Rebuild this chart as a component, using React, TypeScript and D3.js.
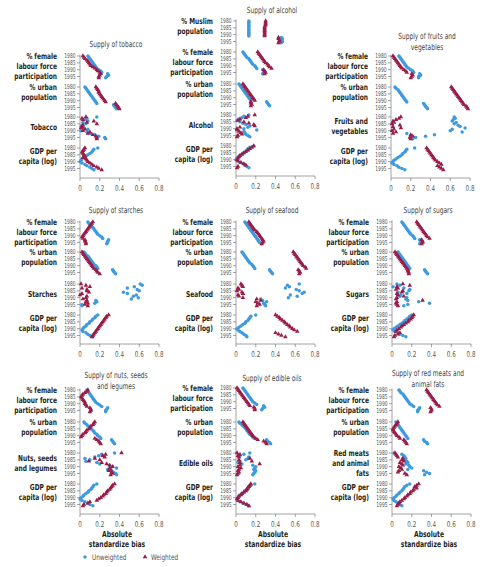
import React from "react";
import * as d3 from "d3";

// ---------- categories / ticks ----------
const YEARS = [1980, 1981, 1982, 1983, 1984, 1985, 1986, 1987, 1988, 1989, 1990, 1991, 1992, 1993, 1994, 1995, 1996];
const YEAR_TICKS = [1980, 1985, 1990, 1995];
const X_TICKS = [0, 0.2, 0.4, 0.6, 0.8];

const FEMALE = ["% female", "labour force", "participation"];
const URBAN = ["% urban", "population"];
const MUSLIM = ["% Muslim", "population"];
const GDP = ["GDP per", "capita (log)"];

// ---------- data: absolute standardized bias, 1980-1996 ----------
// Supply of tobacco
const tobaccoUnweighted = [
  [0.08, 0.09, 0.10, 0.11, 0.12, 0.13, 0.14, 0.15, 0.16, 0.17, 0.19, 0.21, 0.22, 0.28, 0.29, 0.27, 0.26],
  [0.05, 0.06, 0.07, 0.08, 0.09, 0.10, 0.11, 0.12, 0.13, 0.14, 0.15, 0.16, 0.17, 0.34, 0.35, 0.36, 0.37],
  [0.17, 0.07, 0.05, 0.08, 0.03, 0.06, 0.02, 0.01, 0.04, 0.08, 0.01, 0.07, 0.11, 0.15, 0.19, 0.25, 0.26],
  [0.18, 0.14, 0.13, 0.12, 0.10, 0.08, 0.06, 0.04, 0.02, 0.01, 0.00, 0.02, 0.05, 0.07, 0.10, 0.12, 0.14],
];
const tobaccoWeighted = [
  [0.03, 0.04, 0.05, 0.07, 0.08, 0.09, 0.10, 0.11, 0.13, 0.15, 0.17, 0.18, 0.20, 0.21, 0.20, 0.19, 0.19],
  [0.16, 0.17, 0.18, 0.19, 0.19, 0.20, 0.21, 0.22, 0.23, 0.24, 0.25, 0.26, 0.36, 0.37, 0.38, 0.39, 0.40],
  [0.06, 0.02, 0.03, 0.14, 0.07, 0.17, 0.03, 0.02, 0.01, 0.05, 0.03, 0.10, 0.08, 0.13, 0.16, 0.17, 0.17],
  [0.05, 0.04, 0.03, 0.02, 0.03, 0.04, 0.05, 0.03, 0.06, 0.07, 0.08, 0.10, 0.12, 0.14, 0.17, 0.19, 0.22],
];
// Supply of alcohol
const alcoholUnweighted = [
  [0.13, 0.13, 0.13, 0.13, 0.13, 0.13, 0.13, 0.13, 0.13, 0.13, 0.13, 0.13, 0.46, 0.47, 0.46, 0.47, 0.46],
  [0.07, 0.08, 0.09, 0.10, 0.11, 0.13, 0.14, 0.15, 0.16, 0.17, 0.19, 0.20, 0.21, 0.27, 0.29, 0.28, 0.27],
  [0.03, 0.04, 0.05, 0.06, 0.07, 0.08, 0.09, 0.10, 0.11, 0.12, 0.13, 0.14, 0.15, 0.31, 0.32, 0.33, 0.34],
  [0.13, 0.08, 0.06, 0.03, 0.01, 0.04, 0.07, 0.10, 0.14, 0.12, 0.08, 0.21, 0.08, 0.09, 0.10, 0.12, 0.14],
  [0.18, 0.14, 0.12, 0.12, 0.10, 0.08, 0.06, 0.04, 0.02, 0.01, 0.00, 0.02, 0.04, 0.07, 0.09, 0.11, 0.13],
];
const alcoholWeighted = [
  [0.30, 0.30, 0.30, 0.30, 0.29, 0.29, 0.29, 0.29, 0.29, 0.29, 0.29, 0.29, 0.43, 0.43, 0.44, 0.44, 0.43],
  [0.22, 0.23, 0.24, 0.25, 0.26, 0.27, 0.28, 0.29, 0.30, 0.32, 0.33, 0.34, 0.36, 0.28, 0.29, 0.30, 0.29],
  [0.07, 0.08, 0.09, 0.10, 0.11, 0.12, 0.13, 0.14, 0.15, 0.16, 0.17, 0.18, 0.19, 0.15, 0.15, 0.16, 0.15],
  [0.19, 0.12, 0.10, 0.04, 0.02, 0.08, 0.13, 0.18, 0.19, 0.04, 0.01, 0.01, 0.03, 0.05, 0.06, 0.02, 0.01],
  [0.18, 0.16, 0.14, 0.12, 0.10, 0.08, 0.06, 0.04, 0.03, 0.02, 0.01, 0.02, 0.05, 0.08, 0.10, 0.02, 0.01],
];
// Supply of fruits and vegetables
const fruitsUnweighted = [
  [0.08, 0.09, 0.10, 0.11, 0.12, 0.13, 0.14, 0.15, 0.16, 0.18, 0.20, 0.22, 0.23, 0.29, 0.30, 0.28, 0.28],
  [0.04, 0.05, 0.07, 0.08, 0.09, 0.10, 0.11, 0.12, 0.13, 0.14, 0.15, 0.16, 0.33, 0.34, 0.35, 0.36, 0.37],
  [0.64, 0.65, 0.63, 0.62, 0.66, 0.64, 0.68, 0.70, 0.75, 0.62, 0.60, 0.72, 0.16, 0.44, 0.35, 0.25, 0.22],
  [0.24, 0.16, 0.15, 0.14, 0.12, 0.11, 0.09, 0.07, 0.05, 0.03, 0.02, 0.01, 0.03, 0.06, 0.08, 0.11, 0.14],
];
const fruitsWeighted = [
  [0.02, 0.03, 0.04, 0.05, 0.06, 0.07, 0.08, 0.09, 0.10, 0.11, 0.13, 0.15, 0.16, 0.21, 0.22, 0.21, 0.20],
  [0.61, 0.62, 0.63, 0.64, 0.65, 0.66, 0.67, 0.68, 0.69, 0.70, 0.71, 0.72, 0.73, 0.74, 0.76, 0.77, 0.78],
  [0.10, 0.08, 0.05, 0.02, 0.03, 0.01, 0.09, 0.02, 0.10, 0.03, 0.01, 0.05, 0.02, 0.20, 0.22, 0.19, 0.20],
  [0.36, 0.37, 0.38, 0.39, 0.40, 0.41, 0.42, 0.43, 0.44, 0.45, 0.47, 0.49, 0.51, 0.47, 0.49, 0.51, 0.53],
];
// Supply of starches
const starchesUnweighted = [
  [0.08, 0.09, 0.10, 0.11, 0.13, 0.14, 0.15, 0.16, 0.17, 0.18, 0.20, 0.22, 0.23, 0.29, 0.28, 0.28, 0.27],
  [0.04, 0.05, 0.06, 0.08, 0.09, 0.10, 0.11, 0.12, 0.13, 0.14, 0.16, 0.17, 0.18, 0.33, 0.34, 0.35, 0.36],
  [0.61, 0.63, 0.55, 0.48, 0.58, 0.60, 0.44, 0.48, 0.57, 0.54, 0.59, 0.52, 0.16, 0.17, 0.15, 0.02, 0.02],
  [0.18, 0.16, 0.15, 0.13, 0.12, 0.10, 0.09, 0.07, 0.06, 0.04, 0.03, 0.02, 0.03, 0.06, 0.08, 0.10, 0.13],
];
const starchesWeighted = [
  [0.13, 0.12, 0.11, 0.10, 0.09, 0.08, 0.07, 0.06, 0.05, 0.04, 0.03, 0.02, 0.03, 0.05, 0.05, 0.06, 0.06],
  [0.02, 0.03, 0.04, 0.05, 0.06, 0.07, 0.08, 0.09, 0.10, 0.11, 0.12, 0.13, 0.14, 0.16, 0.17, 0.18, 0.20],
  [0.01, 0.06, 0.10, 0.02, 0.07, 0.07, 0.09, 0.02, 0.00, 0.07, 0.06, 0.03, 0.07, 0.06, 0.08, 0.05, 0.08],
  [0.29, 0.27, 0.26, 0.25, 0.24, 0.23, 0.22, 0.21, 0.20, 0.19, 0.18, 0.17, 0.16, 0.15, 0.14, 0.13, 0.12],
];
// Supply of seafood
const seafoodUnweighted = [
  [0.09, 0.10, 0.11, 0.12, 0.13, 0.14, 0.15, 0.16, 0.17, 0.18, 0.19, 0.20, 0.21, 0.22, 0.23, 0.24, 0.26],
  [0.06, 0.07, 0.08, 0.09, 0.10, 0.11, 0.12, 0.13, 0.14, 0.16, 0.17, 0.18, 0.19, 0.34, 0.35, 0.36, 0.37],
  [0.64, 0.52, 0.54, 0.50, 0.61, 0.64, 0.69, 0.67, 0.55, 0.62, 0.53, 0.25, 0.27, 0.31, 0.28, 0.29, 0.30],
  [0.20, 0.15, 0.14, 0.13, 0.12, 0.10, 0.09, 0.07, 0.05, 0.03, 0.01, 0.02, 0.04, 0.06, 0.08, 0.10, 0.11],
];
const seafoodWeighted = [
  [0.13, 0.14, 0.15, 0.16, 0.17, 0.18, 0.19, 0.21, 0.22, 0.23, 0.24, 0.25, 0.26, 0.27, 0.28, 0.27, 0.26],
  [0.58, 0.59, 0.60, 0.61, 0.62, 0.63, 0.64, 0.65, 0.66, 0.67, 0.68, 0.70, 0.71, 0.63, 0.64, 0.65, 0.64],
  [0.05, 0.06, 0.07, 0.02, 0.03, 0.01, 0.06, 0.07, 0.02, 0.03, 0.07, 0.21, 0.25, 0.20, 0.22, 0.24, 0.21],
  [0.40, 0.42, 0.44, 0.45, 0.47, 0.49, 0.50, 0.52, 0.54, 0.55, 0.57, 0.59, 0.62, 0.40, 0.43, 0.46, 0.50],
];
// Supply of sugars
const sugarsUnweighted = [
  [0.10, 0.11, 0.12, 0.13, 0.14, 0.15, 0.16, 0.17, 0.18, 0.19, 0.21, 0.22, 0.23, 0.28, 0.29, 0.29, 0.28],
  [0.06, 0.07, 0.08, 0.09, 0.10, 0.11, 0.12, 0.13, 0.14, 0.15, 0.16, 0.17, 0.18, 0.33, 0.34, 0.35, 0.36],
  [0.05, 0.08, 0.01, 0.12, 0.18, 0.17, 0.06, 0.15, 0.09, 0.08, 0.15, 0.14, 0.16, 0.27, 0.38, 0.16, 0.12],
  [0.20, 0.18, 0.17, 0.15, 0.13, 0.12, 0.10, 0.08, 0.06, 0.04, 0.02, 0.01, 0.03, 0.06, 0.08, 0.11, 0.14],
];
const sugarsWeighted = [
  [0.25, 0.26, 0.27, 0.28, 0.29, 0.30, 0.31, 0.32, 0.33, 0.34, 0.35, 0.36, 0.38, 0.30, 0.31, 0.31, 0.30],
  [0.03, 0.04, 0.05, 0.06, 0.07, 0.08, 0.09, 0.10, 0.11, 0.12, 0.13, 0.14, 0.15, 0.16, 0.16, 0.17, 0.17],
  [0.11, 0.18, 0.05, 0.06, 0.04, 0.11, 0.10, 0.05, 0.06, 0.12, 0.05, 0.04, 0.31, 0.05, 0.04, 0.05, 0.06],
  [0.22, 0.21, 0.20, 0.19, 0.17, 0.16, 0.14, 0.12, 0.10, 0.09, 0.07, 0.05, 0.04, 0.08, 0.06, 0.03, 0.02],
];
// Supply of nuts, seeds and legumes
const nutsUnweighted = [
  [0.07, 0.08, 0.09, 0.10, 0.11, 0.12, 0.13, 0.14, 0.15, 0.16, 0.18, 0.20, 0.22, 0.28, 0.27, 0.26, 0.26],
  [0.04, 0.05, 0.07, 0.08, 0.10, 0.11, 0.13, 0.14, 0.15, 0.17, 0.18, 0.20, 0.21, 0.32, 0.33, 0.34, 0.35],
  [0.35, 0.22, 0.19, 0.15, 0.05, 0.10, 0.06, 0.17, 0.20, 0.30, 0.33, 0.37, 0.28, 0.32, 0.34, 0.36, 0.37],
  [0.17, 0.14, 0.13, 0.12, 0.11, 0.09, 0.08, 0.06, 0.04, 0.03, 0.01, 0.00, 0.02, 0.05, 0.08, 0.10, 0.13],
];
const nutsWeighted = [
  [0.08, 0.07, 0.05, 0.03, 0.02, 0.01, 0.02, 0.03, 0.04, 0.05, 0.05, 0.06, 0.07, 0.10, 0.11, 0.11, 0.10],
  [0.15, 0.14, 0.13, 0.11, 0.10, 0.09, 0.07, 0.06, 0.05, 0.03, 0.02, 0.01, 0.15, 0.17, 0.19, 0.20, 0.21],
  [0.42, 0.26, 0.23, 0.25, 0.15, 0.20, 0.09, 0.22, 0.27, 0.30, 0.33, 0.30, 0.31, 0.29, 0.32, 0.33, 0.31],
  [0.35, 0.33, 0.32, 0.31, 0.30, 0.28, 0.27, 0.26, 0.24, 0.23, 0.21, 0.19, 0.17, 0.10, 0.08, 0.04, 0.03],
];
// Supply of edible oils
const oilsUnweighted = [
  [0.07, 0.08, 0.09, 0.10, 0.11, 0.12, 0.13, 0.14, 0.15, 0.16, 0.17, 0.19, 0.21, 0.28, 0.29, 0.27, 0.26],
  [0.03, 0.04, 0.06, 0.07, 0.09, 0.10, 0.11, 0.12, 0.13, 0.14, 0.16, 0.17, 0.19, 0.31, 0.32, 0.34, 0.35],
  [0.14, 0.08, 0.04, 0.13, 0.12, 0.10, 0.04, 0.02, 0.06, 0.17, 0.20, 0.19, 0.18, 0.20, 0.19, 0.18, 0.17],
  [0.19, 0.15, 0.13, 0.12, 0.11, 0.09, 0.08, 0.06, 0.04, 0.03, 0.02, 0.01, 0.02, 0.04, 0.07, 0.10, 0.13],
];
const oilsWeighted = [
  [0.01, 0.02, 0.03, 0.04, 0.05, 0.06, 0.07, 0.08, 0.09, 0.10, 0.11, 0.12, 0.13, 0.14, 0.18, 0.19, 0.19],
  [0.07, 0.08, 0.09, 0.10, 0.11, 0.12, 0.13, 0.14, 0.15, 0.16, 0.17, 0.18, 0.20, 0.22, 0.28, 0.30, 0.31],
  [0.01, 0.04, 0.02, 0.03, 0.14, 0.03, 0.16, 0.04, 0.24, 0.04, 0.02, 0.05, 0.03, 0.02, 0.03, 0.02, 0.01],
  [0.15, 0.14, 0.13, 0.12, 0.11, 0.10, 0.08, 0.06, 0.05, 0.03, 0.02, 0.01, 0.02, 0.05, 0.08, 0.11, 0.13],
];
// Supply of red meats and animal fats
const meatsUnweighted = [
  [0.07, 0.08, 0.09, 0.11, 0.12, 0.13, 0.14, 0.15, 0.16, 0.17, 0.18, 0.20, 0.22, 0.28, 0.27, 0.26, 0.26],
  [0.04, 0.05, 0.06, 0.07, 0.08, 0.09, 0.10, 0.11, 0.12, 0.13, 0.14, 0.15, 0.16, 0.32, 0.33, 0.35, 0.36],
  [0.02, 0.10, 0.12, 0.13, 0.14, 0.13, 0.15, 0.16, 0.14, 0.17, 0.18, 0.20, 0.16, 0.32, 0.35, 0.38, 0.33],
  [0.18, 0.15, 0.13, 0.12, 0.11, 0.10, 0.08, 0.07, 0.05, 0.04, 0.02, 0.01, 0.02, 0.04, 0.06, 0.08, 0.10],
];
const meatsWeighted = [
  [0.35, 0.36, 0.37, 0.38, 0.39, 0.40, 0.41, 0.42, 0.43, 0.44, 0.45, 0.46, 0.48, 0.39, 0.40, 0.40, 0.39],
  [0.06, 0.05, 0.04, 0.03, 0.02, 0.01, 0.01, 0.02, 0.03, 0.04, 0.05, 0.07, 0.08, 0.12, 0.13, 0.14, 0.15],
  [0.03, 0.04, 0.05, 0.06, 0.11, 0.10, 0.12, 0.08, 0.10, 0.11, 0.07, 0.09, 0.10, 0.07, 0.06, 0.13, 0.15],
  [0.27, 0.25, 0.23, 0.25, 0.22, 0.21, 0.19, 0.18, 0.16, 0.15, 0.13, 0.12, 0.10, 0.08, 0.07, 0.06, 0.05],
];

// ---------- panels ----------
type Label = { lines: string[]; off: number };
type Panel = {
  title: string[];
  titleY: number[];
  x0: number;
  y80: number[];
  axisY: number;
  labels: Label[];
  unweighted: number[][];
  weighted: number[][];
  axisTitle?: boolean;
};

const LF: Label = { lines: FEMALE, off: 0 };
const LU: Label = { lines: URBAN, off: 0.5 };
const LG: Label = { lines: GDP, off: 3.5 };

const PANELS: Panel[] = [
  {
    title: ["Supply of tobacco"], titleY: [44], x0: 80, y80: [56, 87, 117, 148], axisY: 178,
    labels: [LF, LU, { lines: ["Tobacco"], off: 10.5 }, LG],
    unweighted: tobaccoUnweighted, weighted: tobaccoWeighted,
  },
  {
    title: ["Supply of alcohol"], titleY: [10], x0: 236, y80: [21, 52, 84, 115, 146], axisY: 176,
    labels: [{ lines: MUSLIM, off: 0 }, LF, LU, { lines: ["Alcohol"], off: 10.5 }, LG],
    unweighted: alcoholUnweighted, weighted: alcoholWeighted,
  },
  {
    title: ["Supply of fruits and", "vegetables"], titleY: [36, 47], x0: 391, y80: [56, 87, 117, 148], axisY: 178,
    labels: [LF, LU, { lines: ["Fruits and", "vegetables"], off: 4 }, LG],
    unweighted: fruitsUnweighted, weighted: fruitsWeighted,
  },
  {
    title: ["Supply of starches"], titleY: [210], x0: 80, y80: [222, 252, 284, 315], axisY: 344,
    labels: [LF, LU, { lines: ["Starches"], off: 10 }, LG],
    unweighted: starchesUnweighted, weighted: starchesWeighted,
  },
  {
    title: ["Supply of seafood"], titleY: [210], x0: 236, y80: [222, 252, 284, 315], axisY: 344,
    labels: [LF, LU, { lines: ["Seafood"], off: 10 }, LG],
    unweighted: seafoodUnweighted, weighted: seafoodWeighted,
  },
  {
    title: ["Supply of sugars"], titleY: [210], x0: 392, y80: [222, 252, 284, 315], axisY: 344,
    labels: [LF, LU, { lines: ["Sugars"], off: 10 }, LG],
    unweighted: sugarsUnweighted, weighted: sugarsWeighted,
  },
  {
    title: ["Supply of nuts, seeds", "and legumes"], titleY: [375, 386], x0: 80, y80: [390, 422, 453, 484], axisY: 514,
    labels: [LF, LU, { lines: ["Nuts, seeds", "and legumes"], off: 5 }, LG],
    unweighted: nutsUnweighted, weighted: nutsWeighted, axisTitle: true,
  },
  {
    title: ["Supply of edible oils"], titleY: [378], x0: 236, y80: [388, 422, 453, 484], axisY: 514,
    labels: [LF, LU, { lines: ["Edible oils"], off: 10 }, LG],
    unweighted: oilsUnweighted, weighted: oilsWeighted, axisTitle: true,
  },
  {
    title: ["Supply of red meats and", "animal fats"], titleY: [373, 384], x0: 392, y80: [390, 422, 453, 484], axisY: 514,
    labels: [LF, LU, { lines: ["Red meats", "and animal", "fats"], off: 0 }, LG],
    unweighted: meatsUnweighted, weighted: meatsWeighted, axisTitle: true,
  },
];

const BLUE = "#3d9ae0";
const RED = "#9a1d47";
const AXIS = "#8a8a8a";
const TEXT = "#231f20";
const FONT = "'DejaVu Sans Condensed', 'Liberation Sans Narrow', 'Roboto', sans-serif";

const tri = d3.symbol().type(d3.symbolTriangle).size(9)() as string;

type TProps = {
  x: number; y: number; anchor?: "start" | "middle" | "end"; size: number;
  bold?: boolean; fill?: string; sx?: number; children: React.ReactNode;
};
function T({ x, y, anchor = "start", size, bold, fill = TEXT, sx = 0.8, children }: TProps) {
  return (
    <text transform={`translate(${x},${y}) scale(${sx},1)`} textAnchor={anchor} dominantBaseline="central"
      fontSize={size} fontWeight={bold ? "bold" : "normal"} fill={fill} fontFamily={FONT}>
      {children}
    </text>
  );
}

function PanelView({ p }: { p: Panel }) {
  const x = d3.scaleLinear().domain([0, 0.8]).range([p.x0, p.x0 + 79]);
  const top = p.y80[0] - 1.5;
  return (
    <g>
      {p.title.map((t, i) => (
        <T key={i} x={p.x0 + 36} y={p.titleY[i]} anchor="middle" size={8.4} fill="#444" sx={0.78}>{t}</T>
      ))}
      <line x1={p.x0} x2={p.x0} y1={top} y2={p.axisY} stroke={AXIS} strokeWidth={0.8} />
      <line x1={p.x0} x2={p.x0 + 79} y1={p.axisY} y2={p.axisY} stroke={AXIS} strokeWidth={0.8} />
      {X_TICKS.map((t) => (
        <g key={t}>
          <line x1={x(t)} x2={x(t)} y1={p.axisY} y2={p.axisY + 3} stroke={AXIS} strokeWidth={0.8} />
          <T x={x(t)} y={p.axisY + 10} anchor="middle" size={8} fill="#555" sx={0.78}>
            {t === 0 ? "0" : t.toFixed(1)}
          </T>
        </g>
      ))}
      {p.axisTitle && (
        <g>
          <T x={p.x0 + 37} y={p.axisY + 20} anchor="middle" size={8.4} bold>Absolute</T>
          <T x={p.x0 + 37} y={p.axisY + 30} anchor="middle" size={8.4} bold>standardize bias</T>
        </g>
      )}
      {p.y80.map((y0, gi) => {
        const y = d3.scaleLinear().domain([1980, 1995]).range([y0, y0 + 20.5]);
        const lab = p.labels[gi];
        return (
          <g key={gi}>
            {YEAR_TICKS.map((yr) => (
              <g key={yr}>
                <line x1={p.x0 - 3} x2={p.x0} y1={y(yr)} y2={y(yr)} stroke={AXIS} strokeWidth={0.8} />
                <T x={p.x0 - 4.5} y={y(yr)} anchor="end" size={6.8} fill="#555" sx={0.72}>{yr}</T>
              </g>
            ))}
            {lab.lines.map((l, li) => (
              <T key={li} x={p.x0 - 23} y={y0 + lab.off + li * 10} anchor="end" size={8.2} bold sx={0.8}>{l}</T>
            ))}
            {p.unweighted[gi].map((v, i) => (
              <circle key={"u" + i} cx={x(v)} cy={y(YEARS[i])} r={1.75} fill={BLUE} />
            ))}
            {p.weighted[gi].map((v, i) => (
              <path key={"w" + i} d={tri} transform={`translate(${x(v)},${y(YEARS[i])})`} fill={RED} />
            ))}
          </g>
        );
      })}
    </g>
  );
}

export default function App() {
  return (
    <svg width={499} height={567} style={{ position: "absolute", left: 0, top: 0, background: "#fff" }}>
      {PANELS.map((p, i) => (
        <PanelView key={i} p={p} />
      ))}
      <circle cx={85} cy={557} r={1.75} fill={BLUE} />
      <T x={92} y={557} size={8} fill="#555">Unweighted</T>
      <path d={tri} transform="translate(145,557)" fill={RED} />
      <T x={151} y={557} size={8} fill="#555">Weighted</T>
    </svg>
  );
}
